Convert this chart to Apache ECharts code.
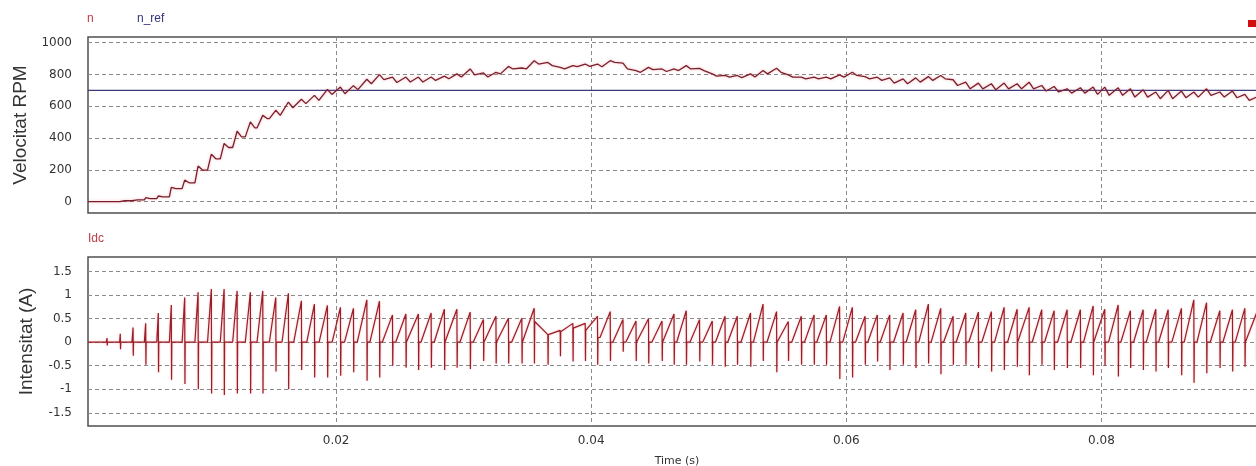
<!DOCTYPE html>
<html><head><meta charset="utf-8">
<script src="https://cdn.jsdelivr.net/npm/echarts@6/dist/echarts.min.js"></script>
<style>html,body{margin:0;padding:0;background:#fff;overflow:hidden}#c{width:1256px;height:466px}</style>
</head><body><div id="c"></div>
<script>
// ---- axis ranges and ticks ----
const xMin = 0.00055, xMax = 0.0929;
const xTicks = [0.02, 0.04, 0.06, 0.08];
const speedTicks = [0, 200, 400, 600, 800, 1000];
const currentTicks = [-1.5, -1, -0.5, 0, 0.5, 1, 1.5];
const nRef = 700;

// ---- Idc pulses (one per commutation), times in ms ----
const idcTimeMs = [2.04,3.08,4.08,5.07,6.06,7.08,8.13,9.18,10.22,11.22,12.24,13.28,14.25,15.27,16.26,17.28,18.30,19.32,20.34,21.36,22.41,23.40,
 24.42,25.47,26.45,27.45,28.49,29.47,30.51,31.55,32.53,33.51,34.56,35.53,36.60,37.57,38.56,39.53,40.49,41.49,42.49,43.51,44.49,45.55,46.49,
 47.45,48.49,49.49,50.49,51.45,52.49,53.47,54.53,55.45,56.47,57.47,58.43,59.47,60.47,61.47,62.43,63.40,64.45,65.44,66.43,67.40,68.37,69.36,70.35,
 71.37,72.37,73.39,74.33,75.32,76.29,77.31,78.35,79.35,80.26,81.31,82.27,83.27,84.26,85.23,86.27,87.24,88.24,89.28,90.27,91.24,92.16];
const idcPeak = [0.09,0.18,0.31,0.4,0.62,0.79,0.95,1.06,1.13,1.13,1.09,1.06,1.09,0.95,1.04,0.88,0.81,0.78,0.74,0.72,0.9,0.87,
 0.58,0.6,0.6,0.62,0.7,0.7,0.64,0.48,0.55,0.51,0.51,0.72,0.16,0.25,0.4,0.4,0.55,0.65,0.48,0.45,0.5,0.45,0.6,
 0.67,0.48,0.45,0.55,0.55,0.62,0.81,0.65,0.44,0.55,0.58,0.58,0.76,0.74,0.55,0.58,0.58,0.62,0.69,0.81,0.72,0.55,0.62,0.64,
 0.65,0.74,0.7,0.74,0.69,0.67,0.69,0.69,0.77,0.7,0.79,0.67,0.69,0.7,0.69,0.72,0.9,0.84,0.67,0.69,0.72,0.62];
const idcTrough = [-0.07,-0.15,-0.29,-0.48,-0.64,-0.8,-0.89,-1.0,-1.09,-1.12,-1.09,-1.09,-1.09,-0.62,-1.0,-0.59,-0.75,-0.75,-0.71,-0.64,-0.82,-0.75,
 -0.5,-0.54,-0.59,-0.54,-0.59,-0.54,-0.57,-0.4,-0.45,-0.45,-0.45,-0.45,-0.48,-0.3,-0.41,-0.4,-0.48,-0.4,-0.2,-0.4,-0.45,-0.4,-0.48,
 -0.48,-0.41,-0.48,-0.52,-0.48,-0.52,-0.4,-0.64,-0.4,-0.48,-0.48,-0.48,-0.78,-0.75,-0.48,-0.41,-0.59,-0.48,-0.55,-0.45,-0.68,-0.48,-0.48,-0.55,
 -0.62,-0.59,-0.52,-0.7,-0.48,-0.59,-0.55,-0.55,-0.7,-0.5,-0.73,-0.55,-0.59,-0.62,-0.55,-0.7,-0.86,-0.66,-0.55,-0.62,-0.52,-0.4];
const idcBase = [0,0,0,0,0,0,0,0,0,0,0,0,0,0,0,0,0,0,0,0,0,0,
 0,0,0,0,0,0,0,0,0,0,0,0,0.44,0.16,0.22,0.3,0.25,0.1,0,0,0,0,0,
 0,0,0,0,0,0,0,0,0,0,0,0,0,0,0,0,0,0,0,0,0,0,0,0,
 0,0,0,0,0,0,0,0,0,0,0,0,0,0,0,0,0,0,0,0,0,0];
const idcRampMs = [0.05,0.05,0.08,0.1,0.12,0.15,0.2,0.25,0.3,0.3,0.35,0.4,0.45,0.5,0.5,0.6,0.6,0.65,0.65,0.7,0.75,0.75,
 0.8,0.8,0.8,0.8,0.8,0.8,0.8,0.8,0.8,0.8,0.8,0.8,0.9,0.9,0.9,0.9,0.85,0.8,0.8,0.8,0.8,0.8,0.8,
 0.75,0.75,0.75,0.75,0.75,0.75,0.75,0.75,0.75,0.75,0.75,0.75,0.75,0.75,0.75,0.75,0.75,0.75,0.75,0.75,0.75,0.75,0.75,0.75,
 0.75,0.75,0.75,0.75,0.75,0.75,0.75,0.75,0.75,0.75,0.75,0.75,0.75,0.75,0.75,0.75,0.75,0.75,0.75,0.75,0.75,0.75];

// ---- speed n (RPM): value at each commutation and level just after it ----
const nPeak = [2,8,15,25,36,90,136,224,299,366,443,502,543,575,627,644,669,706,721,730,770,799,784,
 784,784,784,790,804,835,810,814,851,841,887,876,845,856,866,866,887,872,825,845,835,835,856,839,804,794,794,804,825,839,798,784,784,784,798,814,
 787,783,779,773,779,787,794,767,752,746,742,746,742,752,731,725,710,717,721,721,717,710,704,690,700,696,690,710,690,696,675,658];
const nLow = [0,6,12,19,31,82,119,199,270,341,408,464,523,543,591,617,637,675,679,705,742,768,750,
 753,753,763,773,784,798,784,804,835,835,866,856,835,849,851,849,876,835,814,831,819,825,835,825,790,784,781,784,804,814,784,773,773,773,784,794,
 773,763,746,742,752,763,773,731,710,710,704,710,710,710,696,690,683,683,675,669,669,658,658,648,648,654,658,669,658,654,637,637];

function buildCurrent() {
  const pts = [[xMin, 0]];
  const n = idcTimeMs.length;
  for (let k = 0; k < n; k++) {
    const t = idcTimeMs[k] / 1000;
    pts.push([t - idcRampMs[k] / 1000, idcBase[k]]);
    pts.push([t, idcPeak[k]]);
    pts.push([t + 0.00002, idcTrough[k]]);
    pts.push([t + 0.00004, k + 1 < n ? idcBase[k + 1] : 0]);
  }
  return pts;
}
function buildSpeed() {
  const pts = [[xMin, 0]];
  const n = idcTimeMs.length;
  let prevEnd = xMin, prevLow = 0;
  for (let k = 0; k < n; k++) {
    const t = idcTimeMs[k] / 1000;
    const rs = t - idcRampMs[k] / 1000;
    if (rs > prevEnd) pts.push([rs, prevLow]);
    pts.push([t, nPeak[k]]);
    prevEnd = t + 0.00035;
    prevLow = nLow[k];
    pts.push([prevEnd, prevLow]);
  }
  return pts;
}

const tickFont = {fontFamily: 'DejaVu Sans', fontSize: 12, color: '#333', formatter: v => String(v)};
const gridLine = {show: true, lineStyle: {color: '#8a8a8a', type: [4, 3], width: 1}};
const chart = echarts.init(document.getElementById('c'), null, {renderer: 'canvas'});
chart.setOption({
  animation: false,
  backgroundColor: '#fff',
  grid: [
    {left: 88, width: 1178, top: 37, height: 176, outerBoundsMode: 'none', containLabel: false, show: true, borderColor: '#505050', borderWidth: 1.5, backgroundColor: 'transparent'},
    {left: 88, width: 1178, top: 257, height: 169, outerBoundsMode: 'none', containLabel: false, show: true, borderColor: '#505050', borderWidth: 1.5, backgroundColor: 'transparent'}
  ],
  xAxis: [
    {gridIndex: 0, type: 'value', min: xMin, max: xMax, axisLine: {show: false},
     axisTick: {show: false, customValues: xTicks}, axisLabel: {show: false, customValues: xTicks}, splitLine: gridLine},
    {gridIndex: 1, type: 'value', min: xMin, max: xMax, axisLine: {show: false},
     axisTick: {show: false, customValues: xTicks}, axisLabel: Object.assign({customValues: xTicks, margin: 9}, tickFont), splitLine: gridLine,
     name: 'Time (s)', nameLocation: 'middle', nameGap: 30, nameTextStyle: {fontFamily: 'DejaVu Sans', fontSize: 11, color: '#333'}}
  ],
  yAxis: [
    {gridIndex: 0, type: 'value', min: -71, max: 1036, axisLine: {show: false},
     axisTick: {show: false, customValues: speedTicks}, axisLabel: Object.assign({customValues: speedTicks, margin: 16}, tickFont), splitLine: gridLine,
     name: 'Velocitat RPM', nameLocation: 'middle', nameGap: 52, nameTextStyle: {fontFamily: 'Liberation Sans', fontSize: 19, color: '#333'}},
    {gridIndex: 1, type: 'value', min: -1.78, max: 1.81, axisLine: {show: false},
     axisTick: {show: false, customValues: currentTicks}, axisLabel: Object.assign({customValues: currentTicks, margin: 16}, tickFont), splitLine: gridLine,
     name: 'Intensitat (A)', nameLocation: 'middle', nameGap: 52, nameTextStyle: {fontFamily: 'Liberation Sans', fontSize: 19, color: '#333'}}
  ],
  series: [
    {name: 'n_ref', type: 'line', xAxisIndex: 0, yAxisIndex: 0, showSymbol: false, symbol: 'none',
     data: [[xMin, nRef], [xMax, nRef]], lineStyle: {color: '#3b3b7a', width: 1.3}},
    {name: 'n', type: 'line', xAxisIndex: 0, yAxisIndex: 0, showSymbol: false, symbol: 'none',
     data: buildSpeed(), lineStyle: {color: '#7a1f2e', width: 1.3, shadowColor: 'rgba(240,90,90,0.45)', shadowBlur: 3}},
    {name: 'Idc', type: 'line', xAxisIndex: 1, yAxisIndex: 1, showSymbol: false, symbol: 'none',
     data: buildCurrent(), lineStyle: {color: '#9a1d28', width: 1.2, shadowColor: 'rgba(240,60,60,0.4)', shadowBlur: 2}}
  ],
  graphic: [
    {type: 'text', left: 87, top: 13, style: {text: 'n', fill: '#c03a45', font: '12px "Liberation Sans"'}},
    {type: 'text', left: 137, top: 13, style: {text: 'n_ref', fill: '#34347e', font: '12px "Liberation Sans"'}},
    {type: 'text', left: 88, top: 233, style: {text: 'Idc', fill: '#c03a45', font: '12px "Liberation Sans"'}},
    {type: 'rect', shape: {x: 1248, y: 20, width: 8, height: 7}, style: {fill: '#d01010'}}
  ]
});
</script>
</body></html>
